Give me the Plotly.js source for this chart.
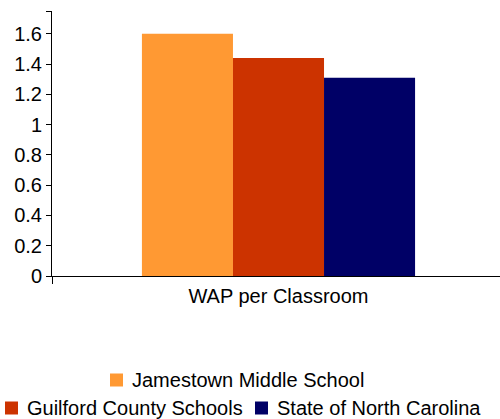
<!DOCTYPE html>
<html><head><meta charset="utf-8">
<script src="https://cdn.plot.ly/plotly-3.0.1.min.js"></script>
<style>body{margin:0;}#chart{width:500px;height:419px;}</style>
</head><body><div id="chart"></div>
<script>
const categories = ['WAP per Classroom'];
const seriesNames = ['Jamestown Middle School', 'Guilford County Schools', 'State of North Carolina'];
const jamestown = [1.6];
const guilford = [1.44];
const northCarolina = [1.31];
const yTickVals = [0, 0.2, 0.4, 0.6, 0.8, 1, 1.2, 1.4, 1.6, 1.75];
const yTickText = ['0', '0.2', '0.4', '0.6', '0.8', '1', '1.2', '1.4', '1.6', ''];
const colors = ['#FF9933', '#CC3300', '#000066'];

const W = 500, H = 419;
const M = {l: 52, r: 0, t: 11, b: 143};
const pw = W - M.l - M.r, ph = H - M.t - M.b;
const px = x => (x - M.l) / pw;
const py = y => (H - M.b - y) / ph;

const values = [jamestown, guilford, northCarolina];
const data = values.map((v, i) => ({
  type: 'bar', x: categories, y: v, name: seriesNames[i],
  marker: {color: colors[i]}, hoverinfo: 'none', showlegend: false
}));

// manual legend layout (pixel positions of each entry: square left, row centre y)
const legendPos = [
  {sx: 110, cy: 380},
  {sx: 5, cy: 408},
  {sx: 255, cy: 408}
];
const sq = 13, textGap = 8;
const shapes = [], annotations = [];
legendPos.forEach((p, i) => {
  shapes.push({type: 'rect', xref: 'paper', yref: 'paper',
    x0: px(p.sx), x1: px(p.sx + sq), y0: py(p.cy - sq / 2), y1: py(p.cy + sq / 2),
    fillcolor: colors[i], line: {width: 0}});
  annotations.push({xref: 'paper', yref: 'paper', x: px(p.sx + sq + textGap), y: py(p.cy),
    xanchor: 'left', yanchor: 'middle', showarrow: false, text: seriesNames[i], borderpad: 0,
    font: {family: 'Liberation Sans, Arial, sans-serif', size: 20, color: '#000'}});
});

const font = {family: 'Liberation Sans, Arial, sans-serif', size: 20, color: '#000'};
const layout = {
  width: W, height: H,
  margin: M,
  paper_bgcolor: '#fff', plot_bgcolor: '#fff',
  font: font,
  barmode: 'group', bargap: 0.397, bargroupgap: 0,
  xaxis: {range: [-0.5, 0.489], showline: true, linecolor: '#000', linewidth: 1, ticks: 'outside', tickson: 'boundaries',
          ticklen: 7, ticklabelstandoff: 2, tickcolor: '#000', showgrid: false, zeroline: false, tickfont: font, automargin: false},
  yaxis: {range: [0, 1.75], tickmode: 'array', tickvals: yTickVals, ticktext: yTickText,
          showline: true, linecolor: '#000', linewidth: 1,
          ticks: 'outside', ticklen: 5, tickcolor: '#000', showgrid: false, zeroline: false, tickfont: font, automargin: false},
  showlegend: false,
  shapes: shapes,
  annotations: annotations
};
Plotly.newPlot('chart', data, layout, {displayModeBar: false, staticPlot: true});
</script></body></html>
